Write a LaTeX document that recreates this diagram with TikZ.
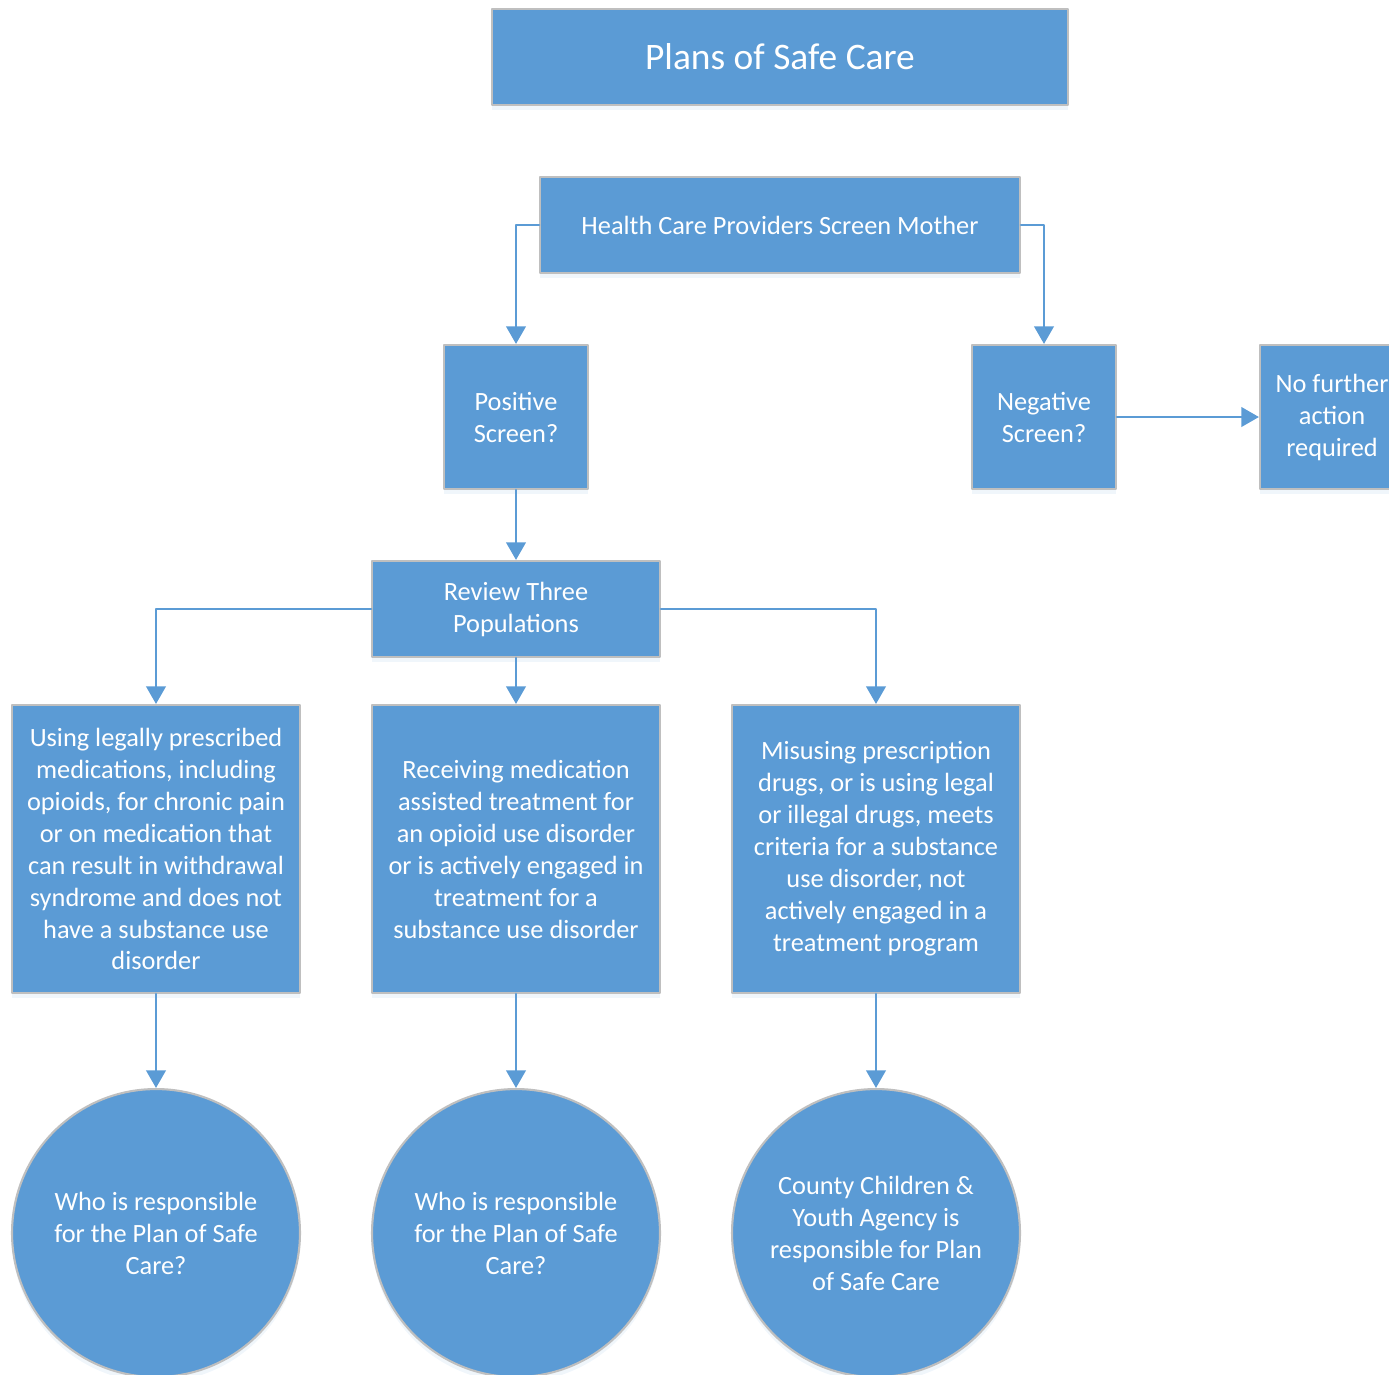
\documentclass[tikz,border=0pt]{standalone}
\usepackage{fontspec}
\setmainfont{Carlito}
\usetikzlibrary{arrows.meta, shadows}
\definecolor{boxblue}{HTML}{5B9BD5}
\definecolor{boxedge}{HTML}{BFBFBF}

\begin{document}
\begin{tikzpicture}[x=0.02cm, y=-0.02cm, line cap=round, line join=round,
	box/.style={rectangle, fill=boxblue, draw=boxedge, line width=1.2pt, text=white, align=center,
		inner sep=0pt, font=\fontsize{15}{18.2}\selectfont,
		drop shadow={shadow xshift=0pt, shadow yshift=-3pt, opacity=0.15, fill=boxblue!60}},
	blob/.style={box, circle, minimum size=5.76cm},
	link/.style={draw=boxblue, line width=1.6pt, -{Triangle[length=10pt, width=11pt]}}]
	\useasboundingbox (0,0) rectangle (1389,1374);
	% top row
	\node[box, minimum width=11.52cm, minimum height=1.92cm, font=\fontsize{21.3}{25}\selectfont] (title) at (780,57) {Plans of Safe Care};
	\node[box, minimum width=9.6cm, minimum height=1.92cm] (screen) at (780,225) {Health Care Providers Screen Mother};
	% screening results
	\node[box, minimum size=2.88cm] (pos) at (516,417) {Positive\\Screen?};
	\node[box, minimum size=2.88cm] (neg) at (1044,417) {Negative\\Screen?};
	\node[box, minimum size=2.88cm] (none) at (1332,417) {No further\\action\\required};
	\node[box, minimum width=5.76cm, minimum height=1.92cm] (review) at (516,609) {Review Three\\Populations};
	% three populations
	\node[box, minimum size=5.76cm] (popa) at (156,849) {Using legally prescribed\\medications, including\\opioids, for chronic pain\\or on medication that\\can result in withdrawal\\syndrome and does not\\have a substance use\\disorder};
	\node[box, minimum size=5.76cm] (popb) at (516,849) {Receiving medication\\assisted treatment for\\an opioid use disorder\\or is actively engaged in\\treatment for a\\substance use disorder};
	\node[box, minimum size=5.76cm] (popc) at (876,849) {Misusing prescription\\drugs, or is using legal\\or illegal drugs, meets\\criteria for a substance\\use disorder, not\\actively engaged in a\\treatment program};
	% who is responsible
	\node[blob] (whoa) at (156,1233) {Who is responsible\\for the Plan of Safe\\Care?};
	\node[blob] (whob) at (516,1233) {Who is responsible\\for the Plan of Safe\\Care?};
	\node[blob] (whoc) at (876,1233) {County Children \&\\Youth Agency is\\responsible for Plan\\of Safe Care};

	\draw[link] (screen.west) -| (pos.north);
	\draw[link] (screen.east) -| (neg.north);
	\draw[link] (neg.east) -- (none.west);
	\draw[link] (pos.south) -- (review.north);
	\draw[link] (review.west) -| (popa.north);
	\draw[link] (review.south) -- (popb.north);
	\draw[link] (review.east) -| (popc.north);
	\draw[link] (popa.south) -- (whoa.north);
	\draw[link] (popb.south) -- (whob.north);
	\draw[link] (popc.south) -- (whoc.north);
\end{tikzpicture}
\end{document}
